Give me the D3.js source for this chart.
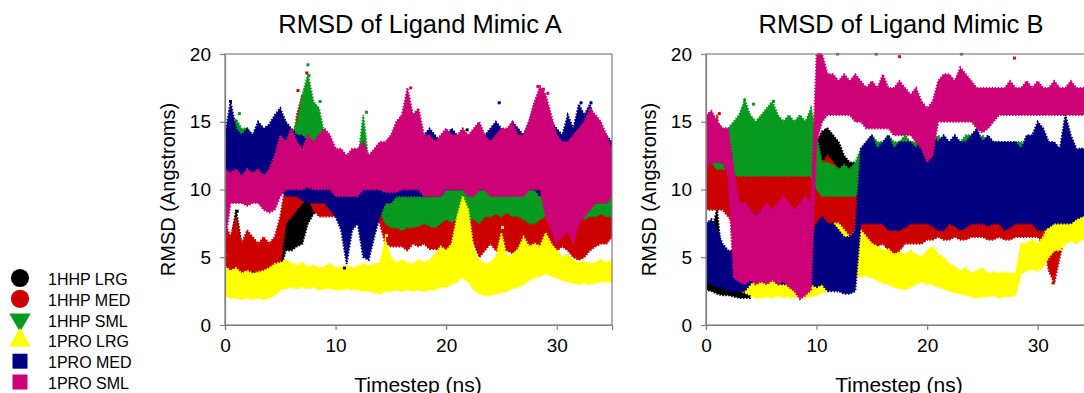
<!DOCTYPE html>
<html>
<head>
<meta charset="utf-8">
<script src="https://cdn.jsdelivr.net/npm/d3@7/dist/d3.min.js"></script>
<style>
  body { margin: 0; background: #fff; }
  text { font-family: Arial, "Liberation Sans", sans-serif; fill: #000; }
</style>
</head>
<body>
<svg id="chart" width="1084" height="393"></svg>
<script>
// time axis (ns), one sample every 0.5 ns
const timesteps = [0,0.5,1,1.5,2,2.5,3,3.5,4,4.5,5,5.5,6,6.5,7,7.5,8,8.5,9,9.5,
  10,10.5,11,11.5,12,12.5,13,13.5,14,14.5,15,15.5,16,16.5,17,17.5,18,18.5,19,19.5,
  20,20.5,21,21.5,22,22.5,23,23.5,24,24.5,25,25.5,26,26.5,27,27.5,28,28.5,29,29.5,
  30,30.5,31,31.5,32,32.5,33,33.5,34,34.5,35];
const xTicks = [0, 10, 20, 30];
const yTicks = [0, 5, 10, 15, 20];

const seriesNames = ['1HHP LRG', '1HHP MED', '1HHP SML', '1PRO LRG', '1PRO MED', '1PRO SML'];
const seriesColors = ['#000000', '#cc0000', '#079a1e', '#ffff00', '#000080', '#cc0077'];
const seriesShapes = ['circle', 'circle', 'triDown', 'triUp', 'square', 'square'];

// ---- Ligand Mimic A : low / high envelope of RMSD (Angstroms) ----
const aHhpLrgLo = [2.3,2.2,2.2,2.3,2.2,2.2,2.2,2.3,2.3,2.5, 4,5.5,5.5,5.8,6,7.5,8.2,8.5,8.5,8.5,
  8.5,8.5,8.5,8.5,8.5,8.5,8.5,8.5,8.5,8.5, 8.5,8.5,8.5,8.5,8.5,8.5,8.5,8.5,8.5,8.5,
  8.5,8.5,8.5,8.5,8.5,8,7,6.5,6.2,6.3, 6.5,6.5,7,7,7,7,7,7,7,7, 7,7,7,7,7,6.8,7,7,7,7, 7];
const aHhpLrgHi = [4.5,6,8.5,6,4.8,4.5,5,4.8,5,5.5, 7.5,8.5,9,9.5,9.5,9.5,10,10,10,10,
  10,10,10,10,10,10,10,10,10,10, 10,10,10,10,10,10,10,10,10,10,
  10,10,10,11,12,10,9.5,9.5,9,8.5, 8.5,9,9.5,9.5,9.5,9.5,9.5,9.5,9.5,9.5, 9.5,9.5,9.5,9.5,9,9,9.5,9.5,9.5,9.5, 9.5];
const aHhpMedLo = [3.8,3.8,4,3.8,3.8,4,3.8,3.6,3.8,4, 4.5,7.5,8,8.5,9,9.5,8.5,8,8,8,
  8,8.5,8.5,8.5,8,8,8,8,7.5,6, 5.8,5.8,5.8,5.5,6,5.8,6,5.6,5.6,5.5,
  5.3,5.5,5.8,6,6.5,6,5,5.5,6,5.5, 5,5.5,5.3,5.5,5,5.5,5.5,5,5.3,5.5, 5.5,5.8,5.5,5,4.8,5,5.5,5.8,6,6, 6.5];
const aHhpMedHi = [7.5,6.5,8,6,7,6.5,6,6.5,6,6.5, 8,10.5,12.5,15.5,17,14,12.5,11.5,10.5,10.5,
  10.5,11,10.5,10.5,10,10,10,9.5,9.5,9, 9,8.5,9,8.5,9,9,8.5,8.5,9,9,
  8.5,9,9.5,9,9,9,9.5,9.5,9,9.5, 9.5,9,9,9,8.5,10,12,13,11,10, 9.5,9.5,9,9,9,9.5,9,8.5,9,8.5, 9];
const aHhpSmlLo = [11,11.5,11.5,11.5,11.5,11,11,11,11,11, 11,11,11,11.5,12,12.5,11,10,9.5,9.5,
  9.5,9.5,9.5,9.5,9,9,9,9,8.5,7.5, 7.2,7.2,7,7.2,7.2,7.3,7.5,7.3,7.2,7.5,
  7.8,7.6,7.8,8,7.8,7.8,7.5,8,8,8.2, 8,8.3,8,8,7.8,7.5,7.5,7.8,8,8, 8,8.2,8.2,8,8,7.8,8,8,8.2,8, 8];
const aHhpSmlHi = [13.5,14.5,15.2,14.5,14.5,14,14,13.5,14,13.5, 14,13.5,14,15,17,18.5,16.5,16,14,13.5,
  13,12.5,12,12.5,12,15.5,12,11.5,11,10.5, 10.2,10,10,10.2,9.8,10,10.2,10,9.8,10,
  10.2,10,10,10.3,10,10,10,10.5,10.3,10.5, 10.5,10.7,10.5,10.3,10.5,10.8,11,11,11.5,11, 10.5,10.8,11,10.5,10.5,10.5,10.8,10.5,10.5,10.3, 10];
const aProLrgLo = [2.2,2,2,1.9,2,1.9,2,1.9,2,2.2, 2.6,2.7,2.8,2.7,2.8,2.7,2.8,2.6,2.7,2.7,
  2.6,2.6,2.7,2.6,2.6,2.5,2.5,2.4,2.3,2.5, 2.5,2.6,2.5,2.6,2.5,2.6,2.5,2.6,2.6,2.8,
  2.8,3,3.2,3.5,3.2,2.6,2.3,2.2,2.2,2.3, 2.4,2.5,2.7,2.8,3,3.3,3.5,3.6,3.8,3.6, 3.5,3.3,3.2,3.1,3,3.1,3,3.1,3.2,3.2, 3.2];
const aProLrgHi = [4.3,4,4.2,3.8,4,3.8,3.9,4,4.2,4.5, 4.6,4.8,4.6,4.4,4.6,4.3,4.4,4.2,4.3,4.5,
  4.2,4.3,4.4,4.2,4.3,4.5,4.4,4.5,4.6,6.3, 5,4.6,4.8,4.6,4.5,4.8,4.6,4.8,5.2,5.8,
  5.5,6,8,9.5,8.5,5.5,4.8,4.5,4.6,5, 6.8,5,5.2,5.6,6.5,5.8,6,5.8,6.8,6, 5.5,5,5.2,4.8,4.6,4.7,4.5,4.6,4.8,4.6, 4.8];
const aProMedLo = [10.5,10.5,10.5,10.5,10.5,10.5,10.5,10.5,10.5,10.5, 10,9.5,9.5,9.5,9.2,9,9,9,9,8.5,
  8,7,4.5,7,7.5,5,4.8,6.5,8,9, 9,9.5,9.5,9.5,9.5,9.5,9.5,9.5,9.5,9.5,
  10,10,10,10,10,10,10,10,10,10, 10,10,10,10,10,10,10,9.5,9.5,9.5, 9.5,9.5,10,10,9.5,9.5,9.5,9.5,9.5,10, 10];
const aProMedHi = [14,16.5,14.5,14,14.5,14,15,14.5,14.8,15.5, 16,15,14.5,14,14,13.5,13.5,13,13.5,13,
  12.5,12.5,12.5,12,12,12,12.5,12.5,13,13, 13.5,14,15.5,14,13.5,13.5,14,14.5,14,13.5,
  14,14.5,14,14,13.5,14,13.5,14,14.5,15, 14.5,14,15,14.5,14,15,16.3,15.5,16,15, 14.5,14,15.5,14.5,16.3,15.5,16.3,15,14.5,14, 13.5];
const aProSmlLo = [6,9,9,9,8.8,9,9,8.5,8.3,8.5, 9.5,10,10,10,10,10.2,10,10,10,10,
  9.5,9.5,9.5,9.5,9.5,10,10,10,10,9.8, 9.8,9.8,10,10,10,10,9.5,9.5,9.5,9.5,
  10,10,10,10,9.5,9.5,10,10,9.5,9.5, 9.5,9.5,9.5,9.5,9.5,10,10,10,8,7, 6,6.5,7,6,7.5,8,8.5,9,9,9, 9.5];
const aProSmlHi = [11.5,11.2,11.5,11,11.5,11.2,11.5,11,11.5,12.5, 14,13.5,14.5,13.5,13,14,13.5,14,14.5,14,
  13,13,12.5,13,13,13.5,12.5,13,13.5,13.5, 14,15,15.5,17.5,15.5,16,14,14,13.5,14,
  14.5,14,14,14.5,14,14.5,15,14,13.5,14, 14.5,14.5,15,14,14,15,16.5,17.6,17,15.5, 14,13.5,13.5,14,14.5,15,16,15.5,15,14, 13];

// ---- Ligand Mimic B ----
const bHhpLrgLo = [2.6,2.5,2.3,2.2,2.2,2.1,2,2,2,5, 8,8.5,9,8.5,8.5,8.5,8.5,9,9,9,
  10.5,11.5,11.5,11.5,11,10.5,10,10,10,10, 10,10,10,10,10,10,10,10,10,10,
  10,10,10,10,10,10,10,10,10,10, 10,10,10,10,10,10,10,10,10,10, 10,10,10,10,10,10,10,10,10.5,10.5, 10.5];
const bHhpLrgHi = [4.5,7,8.5,4.5,3.5,3.3,3.3,3.2,3.5,8, 12,12.5,13,12,11.5,11.5,11.5,12.5,12.5,12,
  13.5,14.3,14.5,14,13.5,12.5,12,12,12,12, 12,12,12,12,12,12,12,12,12,12,
  12,12,12,12,12,12,12,12,12,12, 12,12,12,12,12,12,12,12,12,12, 12,12,12,12,12,12,12.5,12.5,13,13, 13];
const bHhpMedLo = [8.5,8.5,8.5,8.5,8,7.5,7.5,7.3,7.5,7.2, 5.8,7,6.8,7,7,7,6.8,7,6.8,7,
  7,6.5,6,6.5,6,5.5,5.5,5.5,6,6, 6,5.8,6,5.5,4.5,5.5,6,6,6,6,
  6.3,6.3,6.5,6.3,6.3,6.5,6.3,6.3,6.5,6.5, 6.5,6.3,6.3,6.5,6.3,6.3,6.5,6.5,6.5,6.5, 6.5,6,4,3.1,5,7,7,7,7,7, 7];
const bHhpMedHi = [14.5,13,15.5,12.5,12,12,12.5,11.5,12,12.5, 12,12,11.5,12,11.5,12,11.5,11.5,12,11.5,
  11,12,12.5,12,11.5,11,11,10.5,10,9.5, 9.5,9.5,9.5,9.5,9.5,9.5,9,9.5,9.5,9.5,
  9.5,9.5,9.5,9.5,9.5,9.5,9.5,9.5,9.5,9.5, 9.5,9.5,9.5,9.5,9.5,9.5,9.5,9.5,9.5,9.5, 9.5,9.5,9,9,9.5,9.5,9.5,9.5,9.5,9.5, 9.5];
const bHhpSmlLo = [12,12,11.5,11.5,11.5,11,11,11,11,11, 11,11,11,11,11,11,11,11,11,11,
  10,9.5,9.5,9.5,9.5,9.5,9.5,9.5,10,10.5, 10.5,10.5,10.5,10.5,10.5,10.5,10.5,10.5,10.5,10.5,
  10.5,10.5,11,11,11,11,11,11,10.5,10.5, 10.5,10.5,10.5,10.5,10.5,10.5,10.5,10.5,10.5,10.5, 10.5,10.5,10.5,10.5,10,10,10,10,10,10, 10];
const bHhpSmlHi = [14.8,14.5,15,14.5,14.5,15,15.5,16.6,15.5,15, 15.5,16,16.5,15.5,15,15.5,15,15.5,15,16,
  14,12,12,11.8,11.5,11.8,11.5,12,13,13.5, 14,13.5,13.5,14,13.5,13.5,14,13.5,13.5,14,
  13.5,13.5,14,13.5,13.5,13.5,13.5,14,14,13.5, 14,13.5,13.5,13.5,13.5,13,13.5,13.5,13,13.5, 13.5,13.5,13.5,13,13,13,12.5,12.5,12.5,12.5, 12.5];
const bProLrgLo = [3.5,3.5,3.3,3.2,3,2.8,2.6,2.4,2.2,2, 2,2.1,2,2.2,2,2.1,2,2.2,2,2.1,
  2.2,2.4,2.5,2.8,3,3.2,3.4,3.5,3.6,3.6, 3.5,3.3,3.1,3,2.8,2.7,2.6,2.8,3,3.2,
  3,3,2.8,2.7,2.5,2.4,2.3,2.2,2.1,2, 2.1,2.1,2.2,2,2.1,2.1,2.2,3.8,4,4.1, 4,4.3,5,5.5,5.5,6,6.2,6,6.3,6.2, 6.3];
const bProLrgHi = [6.5,5.5,5,4.5,4.5,4,3.8,3.5,3.3,3.2, 3.2,3.4,3.1,3.5,3.2,3.3,3.1,3.4,3.2,3.3,
  4,4.5,6,7.5,7.5,7,6.5,7,7,6.5, 6,5.8,5.5,5.6,5.2,5.4,5.2,5.5,5.2,5,
  5.5,5.8,5.2,5,4.5,4.3,4,4.2,3.8,4, 4.2,3.8,3.9,3.8,3.9,3.8,3.8,6,6,6.3, 6,6.5,7.5,8,7.5,8.5,8.7,8.5,9,8.5, 8.8];
const bProMedLo = [3.2,3,2.8,2.8,2.5,2.5,2.5,2.5,3,3.5, 4,3.5,3.5,3,3,3,3,3,3,3,
  2.8,3,2.5,2.5,2.5,2.3,2.3,2.5,7.5,7.5, 7.5,7.5,7.5,7,7,7,7.2,7.5,7.5,7.5,
  7.5,7.3,7,7,7.5,7.3,7,7.2,7.5,7.5, 7.5,7.3,7.5,7.5,7,7.2,7.5,7.5,7.5,7.5, 7,7,7.2,7.5,7.5,7.5,7.5,7.8,8,8, 8];
const bProMedHi = [7.5,7.8,7,6,5.5,5.5,6,7.5,8.5,8, 8.5,8,7.5,7,7.5,7,8,7.5,7,6.5,
  7.5,8,7.5,7.5,7,6.5,6.5,7,13,13.5, 14,13,13.5,14,13,13.5,13.5,13.5,13,14,
  14.3,14,13.5,14,13.5,14,13.5,13.5,14,14.5, 13.5,14,13.5,13.5,13.5,13.5,13.5,13,14,14, 15,14.5,13.5,13.5,13,15.5,14,13,13,12.5, 13];
const bProSmlLo = [11.5,12,12,12,11,3.5,3.2,3,3.3,3, 3.2,3,3.3,3,3.2,2.8,2.5,1.9,2.2,2.6,
  13.5,15,15.5,15.5,15.5,15.5,15.5,15,15,14.5, 14.5,14.5,14.5,14.5,14,14,14,14,13.5,13,
  12,12.5,15,15,15,15,15,15,15,14.5, 14.2,14.5,15,15.5,15.5,15.5,15.5,15.5,15.5,15.5, 15.5,15.5,15.5,15.5,15.5,15.5,15.5,15.5,15.5,15.5, 15.5];
const bProSmlHi = [15.5,15.8,15,14.5,14.5,11.5,9,9,8.5,8, 8.5,9,8.5,9,9.5,9,8.5,9,9.5,9,
  20,20,18.5,18.5,18,18.5,18,18.5,18,17.5, 18,17.5,18.5,17.5,17.5,18,17.5,17,17.5,16.5,
  16,16.5,18,18.5,18.5,18,19,18.5,18,17.5, 17.5,17.5,17.5,17.5,17.5,18,17.5,17.5,18,17.5, 18,17.5,17.5,18,17.5,17.5,18,17.5,17.5,17.5, 17.5];

// isolated points standing out of the bands: [time, RMSD]
const aOutliers = [
  [[1.1, 8.4], [21.9, 14.4], [22.1, 13.8]],
  [[6.6, 17.3], [7.4, 18.6], [7.5, 17.8], [28.2, 14.5]],
  [[7.5, 19.2], [7.6, 18.4], [8.6, 16.5], [12.8, 15.7], [1.3, 15.6]],
  [[14.6, 6.6], [25.1, 7.2]],
  [[0.5, 16.5], [24.8, 16.4], [32.2, 16.4], [33.1, 16.4], [10.8, 4.2]],
  [[16.8, 17.5], [28.3, 17.6], [28.8, 17.4], [29.2, 17.1], [0.1, 5.2]]
];
const bOutliers = [
  [[10.9, 14.4]],
  [[1.2, 15.6], [31.4, 3.1]],
  [[3.5, 16.6], [6.1, 16.5], [4.3, 16.3]],
  [],
  [[32.4, 15.6], [15.5, 14.8]],
  [[10.3, 20], [11.9, 20], [15.4, 20], [23.1, 20], [27.9, 19.7], [17.5, 19.8]]
];

const panels = [
  { title: 'RMSD of Ligand Mimic A', left: 225, outliers: aOutliers,
    lo: [aHhpLrgLo, aHhpMedLo, aHhpSmlLo, aProLrgLo, aProMedLo, aProSmlLo],
    hi: [aHhpLrgHi, aHhpMedHi, aHhpSmlHi, aProLrgHi, aProMedHi, aProSmlHi] },
  { title: 'RMSD of Ligand Mimic B', left: 706, outliers: bOutliers,
    lo: [bHhpLrgLo, bHhpMedLo, bHhpSmlLo, bProLrgLo, bProMedLo, bProSmlLo],
    hi: [bHhpLrgHi, bHhpMedHi, bHhpSmlHi, bProLrgHi, bProMedHi, bProSmlHi] }
];

const PLOT_W = 387, TOP = 54, BOTTOM = 325;
const svg = d3.select('#chart');
const axisColor = '#7f7f7f';

panels.forEach((p, pi) => {
  const x = d3.scaleLinear().domain([0, 35]).range([p.left, p.left + PLOT_W]);
  const y = d3.scaleLinear().domain([0, 20]).range([BOTTOM, TOP]);
  const g = svg.append('g');

  g.append('clipPath').attr('id', 'clip' + pi)
    .append('rect').attr('x', p.left).attr('y', TOP - 1).attr('width', PLOT_W).attr('height', BOTTOM - TOP + 1);

  // series bands, drawn in legend order (later series on top, like the original)
  const marks = g.append('g').attr('clip-path', `url(#clip${pi})`);
  const idx = timesteps.map((t, i) => i);
  seriesNames.forEach((name, s) => {
    const lo = p.lo[s], hi = p.hi[s];
    const band = d3.area()
      .x(i => x(timesteps[i]))
      .y0(i => y(lo[i]))
      .y1(i => y(hi[i]));
    marks.append('path')
      .attr('d', band(idx))
      .attr('fill', seriesColors[s])
      .attr('stroke', seriesColors[s])
      .attr('stroke-width', 2)
      .attr('stroke-dasharray', '1.5 1.5');

    marks.selectAll(null)
      .data(p.outliers[s])
      .enter().append('rect')
      .attr('x', d => x(d[0]) - 1.5)
      .attr('y', d => y(d[1]) - 1.5)
      .attr('width', 3).attr('height', 3)
      .attr('fill', seriesColors[s]);
  });

  // plot frame
  g.append('rect')
    .attr('x', p.left).attr('y', TOP).attr('width', PLOT_W).attr('height', BOTTOM - TOP)
    .attr('fill', 'none').attr('stroke', axisColor).attr('stroke-width', 1.2);

  const yAxis = g.append('g').attr('transform', `translate(${p.left},0)`)
    .call(d3.axisLeft(y).tickValues(yTicks).tickSize(5).tickPadding(9));
  const xAxis = g.append('g').attr('transform', `translate(0,${BOTTOM})`)
    .call(d3.axisBottom(x).tickValues(xTicks).tickSize(5).tickPadding(9));
  [yAxis, xAxis].forEach(ax => {
    ax.select('.domain').attr('stroke', axisColor).attr('stroke-width', 1.2);
    ax.selectAll('.tick line').attr('stroke', axisColor).attr('stroke-width', 1.2);
    ax.selectAll('.tick text').attr('font-size', 19).attr('font-family', 'Arial, "Liberation Sans", sans-serif').attr('fill', '#000');
  });

  g.append('text')
    .attr('x', p.left + 195).attr('y', 33)
    .attr('text-anchor', 'middle').attr('font-size', 25.5)
    .text(p.title);

  g.append('text')
    .attr('transform', `translate(${p.left - 50},${(TOP + BOTTOM) / 2}) rotate(-90)`)
    .attr('text-anchor', 'middle').attr('font-size', 20)
    .text('RMSD (Angstroms)');

  g.append('text')
    .attr('x', p.left + 193).attr('y', 392)
    .attr('text-anchor', 'middle').attr('font-size', 21)
    .text('Timestep (ns)');
});

// legend
const legend = svg.append('g');
const symbolFor = {
  circle: d3.symbol().type(d3.symbolCircle).size(260),
  square: d3.symbol().type(d3.symbolSquare).size(225),
  triDown: d3.symbol().type(d3.symbolTriangle).size(200),
  triUp: d3.symbol().type(d3.symbolTriangle).size(200)
};
seriesNames.forEach((name, s) => {
  const cy = 278 + s * 20.8;
  const rot = seriesShapes[s] === 'triDown' ? 180 : 0;
  legend.append('path')
    .attr('d', symbolFor[seriesShapes[s]]())
    .attr('transform', `translate(20,${cy}) rotate(${rot})`)
    .attr('fill', seriesColors[s]);
  legend.append('text')
    .attr('x', 48).attr('y', cy + 7)
    .attr('font-size', 16)
    .text(name);
});
</script>
</body>
</html>
